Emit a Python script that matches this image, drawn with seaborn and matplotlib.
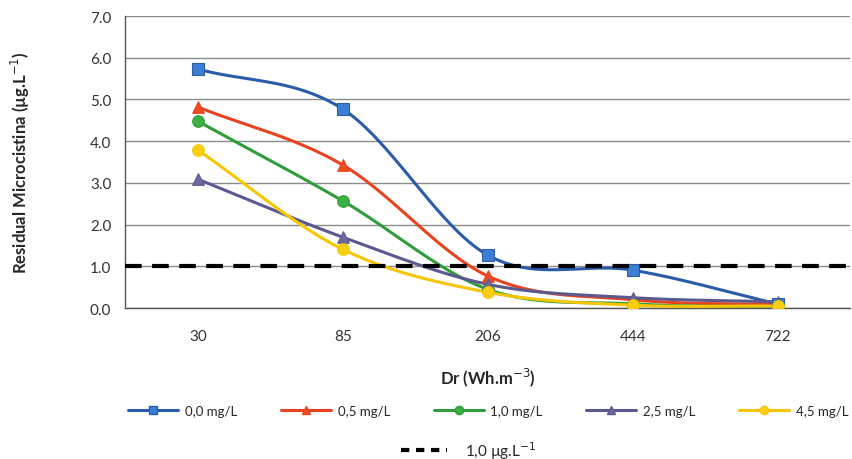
import numpy as np
import pandas as pd
import matplotlib
matplotlib.use("Agg")
import matplotlib.pyplot as plt
import seaborn as sns
from matplotlib.lines import Line2D

categories = ["30", "85", "206", "444", "722"]
series_names = ["0,0 mg/L", "0,5 mg/L", "1,0 mg/L", "2,5 mg/L", "4,5 mg/L"]
s00 = [5.73, 4.77, 1.27, 0.91, 0.10]
s05 = [4.82, 3.43, 0.77, 0.20, 0.08]
s10 = [4.48, 2.57, 0.45, 0.10, 0.03]
s25 = [3.09, 1.70, 0.57, 0.25, 0.15]
s45 = [3.79, 1.41, 0.38, 0.07, 0.05]
threshold = 1.0
threshold_label = "1,0 µg.L$^{-1}$"
yticks = [0.0, 1.0, 2.0, 3.0, 4.0, 5.0, 6.0, 7.0]

colors = ["#2a5caa", "#e8431e", "#2f9e3a", "#5b5a8e", "#f7c600"]
mfc = ["#3b7fd4", "#f04a1f", "#3cb043", "#6b6a9e", "#f9cd10"]
markers = ["s", "^", "o", "^", "o"]

sns.set_style("white")
plt.rcParams["font.family"] = ["Lato", "DejaVu Sans"]

fig = plt.figure(figsize=(8.52, 4.6), dpi=100)
ax = fig.add_axes([0.147, 0.328, 0.851, 0.635])

def smooth(xs, ys, n=40):
    # Catmull-Rom style smoothing for display only (like Excel smoothed lines)
    xs = np.asarray(xs, float); ys = np.asarray(ys, float)
    P = np.column_stack([xs, ys])
    P = np.vstack([2 * P[0] - P[1], P, 2 * P[-1] - P[-2]])
    out = []
    for i in range(1, len(P) - 2):
        p0, p1, p2, p3 = P[i - 1], P[i], P[i + 1], P[i + 2]
        t = np.linspace(0, 1, n)[:, None]
        c = 0.5 * ((2 * p1) + (-p0 + p2) * t + (2 * p0 - 5 * p1 + 4 * p2 - p3) * t**2
                   + (-p0 + 3 * p1 - 3 * p2 + p3) * t**3)
        out.append(c if i == len(P) - 3 else c[:-1])
    out = np.vstack(out)
    return out[:, 0], out[:, 1]

xpos = np.arange(len(categories))
all_series = [s00, s05, s10, s25, s45]

for g in yticks:
    ax.axhline(g, color="#8c8c8c", lw=1.0, zorder=1)

handles = []
for i, (name, vals) in enumerate(zip(series_names, all_series)):
    sx, sy = smooth(xpos, vals)
    sns.lineplot(x=sx, y=sy, ax=ax, color=colors[i], lw=2.2, sort=False, zorder=3 + i * 0.1)
    ax.scatter(xpos, vals, marker=markers[i], s=70, color=mfc[i],
               edgecolors=colors[i], linewidths=0.8, zorder=4 + i * 0.1)
    handles.append(Line2D([0], [0], color=colors[i], lw=2.2, marker=markers[i],
                          markersize=6, markerfacecolor=mfc[i], markeredgecolor=colors[i]))

ax.axhline(threshold, color="black", lw=3, ls=(0, (4, 2.5)), zorder=6)

ax.set_xlim(-0.5, len(categories) - 0.5)
ax.set_ylim(0, 7.0)
ax.set_yticks(yticks)
ax.set_yticklabels([f"{v:.1f}" for v in yticks], fontsize=11, color="#333333")
ax.set_xticks(xpos)
ax.set_xticklabels(categories, fontsize=11, color="#333333")
ax.set_xticks(np.arange(0.5, len(categories) - 1, 1.0), minor=True)
ax.tick_params(axis="x", which="major", length=0, pad=15)
ax.tick_params(axis="x", which="minor", length=5, direction="in", color="#555555")
ax.tick_params(axis="y", length=0, pad=10)

for s in ["top", "right"]:
    ax.spines[s].set_visible(False)
ax.spines["left"].set_color("#555555")
ax.spines["bottom"].set_color("#555555")
ax.spines["left"].set_linewidth(1.0)
ax.spines["bottom"].set_linewidth(1.0)

ax.set_xlabel("Dr (Wh.m$^{-3}$)", fontsize=12, fontweight="bold", labelpad=16)
ax.set_ylabel("Residual Microcistina (µg.L$^{-1}$)", fontsize=12, fontweight="bold", labelpad=42)

leg1 = fig.legend(handles, series_names, loc="center", bbox_to_anchor=(0.573, 0.105),
                  ncol=5, frameon=False, fontsize=9.5, handlelength=3.8,
                  columnspacing=3.3, handletextpad=0.5)
dash_handle = Line2D([0], [0], color="black", lw=3, ls=(0, (2, 1.6)))
fig.legend([dash_handle], [threshold_label], loc="center", bbox_to_anchor=(0.55, 0.02),
           frameon=False, fontsize=11, handlelength=3.0, handletextpad=1.2)

fig.savefig("out.png", dpi=100)
